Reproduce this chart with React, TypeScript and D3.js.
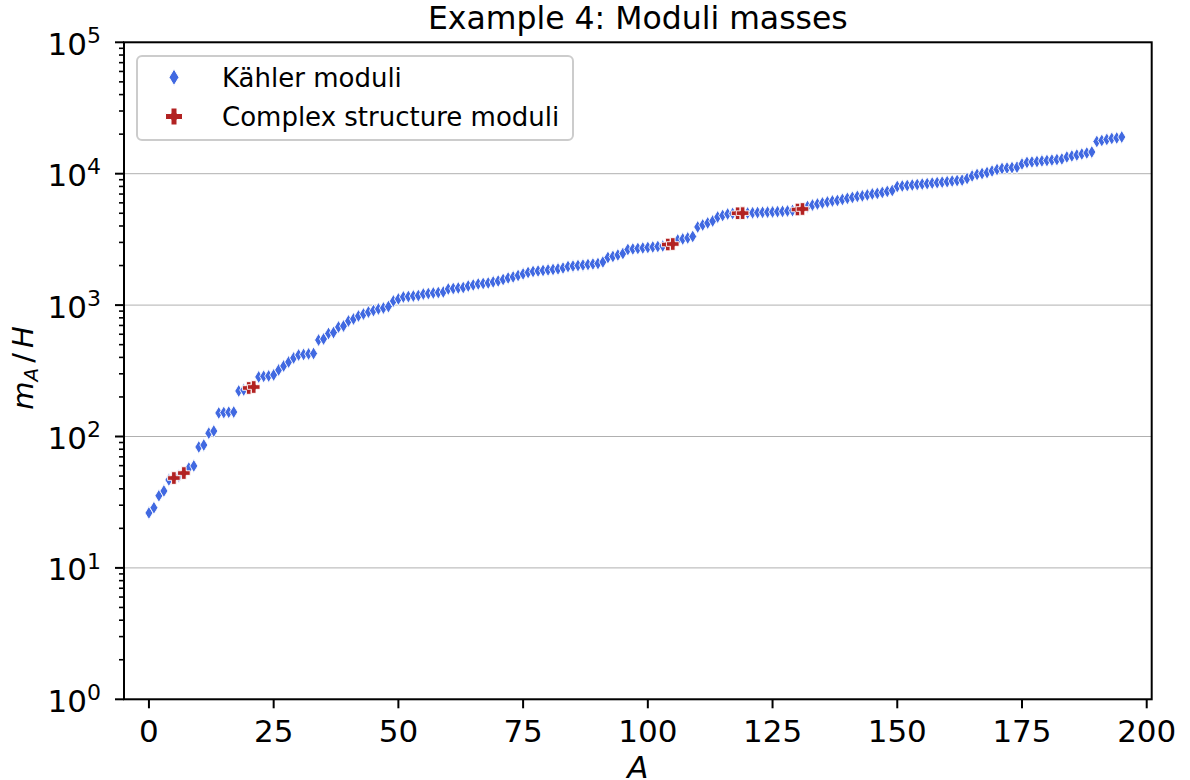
import React from "react";
import * as d3 from "d3";

// Masses m_A / H for each modulus A = 0..195 (sorted)
const masses: number[] = [
  26.2, 28.7, 35.4, 38.5, 46.7, 48.3, 50.0, 52.7, 57.5, 59.7,
  83.2, 86.1, 106, 110, 151, 152, 153, 153.5, 222, 226,
  234, 238, 284, 287, 289, 294, 321, 344, 369, 396,
  417, 421, 425, 428, 542, 552, 608, 618, 681, 693,
  757, 784, 826, 855, 885, 909, 934, 950, 975, 1074,
  1113, 1153, 1162, 1172, 1182, 1214, 1224, 1236, 1246, 1258,
  1326, 1337, 1349, 1361, 1397, 1422, 1448, 1460, 1473, 1500,
  1525, 1566, 1608, 1637, 1680, 1726, 1771, 1802, 1818, 1834,
  1851, 1867, 1884, 1915, 1965, 1983, 2000, 2018, 2036, 2054,
  2072, 2128, 2303, 2345, 2406, 2470, 2650, 2673, 2697, 2720,
  2744, 2768, 2792, 2817, 2891, 2917, 3130, 3186, 3243, 3328,
  3930, 4070, 4216, 4367, 4680, 4808, 4934, 4978, 4998, 5010,
  5022, 5040, 5060, 5080, 5100, 5114, 5140, 5165, 5200, 5245,
  5340, 5387, 5625, 5775, 5880, 5985, 6092, 6200, 6255, 6370,
  6490, 6600, 6720, 6780, 6890, 7015, 7080, 7200, 7330, 7450,
  7990, 8060, 8130, 8200, 8270, 8340, 8400, 8480, 8550, 8620,
  8690, 8790, 8860, 8930, 9190, 9610, 9870, 10030, 10200, 10480,
  10760, 10960, 11050, 11130, 11220, 11860, 12190, 12280, 12370, 12500,
  12590, 12700, 12810, 12940, 13400, 13640, 13870, 14120, 14370, 14620,
  17580, 17900, 18220, 18540, 18700, 19010,
];

// Indices that are complex structure moduli (the rest are Kähler moduli)
const complexIdx: number[] = [5, 7, 20, 21, 104, 105, 118, 119, 130, 131];

const xTicks: number[] = [0, 25, 50, 75, 100, 125, 150, 175, 200];
const yExponents: number[] = [0, 1, 2, 3, 4, 5];
const legendLabels: string[] = ["Kähler moduli", "Complex structure moduli"];
const titleText = "Example 4: Moduli masses";

const BLUE = "#4169E1";
const RED = "#B22222";
const FONT = "DejaVu Sans, sans-serif";

const diamondPath = (w: number, h: number) => `M0,${-h}L${w},0L0,${h}L${-w},0Z`;
const plusPath = (L: number, t: number) =>
  `M${-t},${-L}H${t}V${-t}H${L}V${t}H${t}V${L}H${-t}V${t}H${-L}V${-t}H${-t}Z`;

export default function App() {
  const left = 124, right = 1151.7, top = 42.3, bottom = 699.3;
  const x = d3.scaleLinear().domain([-5, 201]).range([left, right]);
  const y = d3.scaleLog().domain([1, 1e5]).range([bottom, top]);

  const complexSet = new Set(complexIdx);
  const points = masses.map((v, i) => ({ i, v, complex: complexSet.has(i) }));
  const kahler = points.filter((p) => !p.complex);
  const complexPts = points.filter((p) => p.complex);

  const minorTicks: number[] = [];
  for (let e = 0; e < 5; e++) {
    for (let k = 2; k <= 9; k++) minorTicks.push(k * Math.pow(10, e));
  }

  return (
    <svg
      width={1190}
      height={780}
      style={{ position: "absolute", left: 0, top: 0, background: "#fff" }}
      fontFamily={FONT}
    >
      <rect x={0} y={0} width={1190} height={780} fill="#fff" />
      {/* grid */}
      {yExponents.map((e) => (
        <line
          key={"g" + e}
          x1={left}
          x2={right}
          y1={y(Math.pow(10, e))}
          y2={y(Math.pow(10, e))}
          stroke="#b0b0b0"
          strokeWidth={1}
        />
      ))}
      {/* points */}
      {kahler.map((p) => (
        <path
          key={"k" + p.i}
          d={diamondPath(4, 6.6)}
          transform={`translate(${x(p.i)},${y(p.v)})`}
          fill={BLUE}
          stroke="#fff"
          strokeWidth={0.9}
        />
      ))}
      {complexPts.map((p) => (
        <path
          key={"c" + p.i}
          d={plusPath(6.3, 2.3)}
          transform={`translate(${x(p.i)},${y(p.v)})`}
          fill={RED}
          stroke="#fff"
          strokeWidth={0.9}
        />
      ))}
      {/* spines */}
      <rect
        x={left}
        y={top}
        width={right - left}
        height={bottom - top}
        fill="none"
        stroke="#000"
        strokeWidth={2}
      />
      {/* x ticks */}
      {xTicks.map((t) => (
        <g key={"x" + t}>
          <line x1={x(t)} x2={x(t)} y1={bottom} y2={bottom + 9} stroke="#000" strokeWidth={2} />
          <text x={x(t)} y={741.7} fontSize={31} textAnchor="middle" fill="#000">
            {t}
          </text>
        </g>
      ))}
      {/* y ticks */}
      {minorTicks.map((t) => (
        <line key={"m" + t} x1={left - 5} x2={left} y1={y(t)} y2={y(t)} stroke="#000" strokeWidth={1.6} />
      ))}
      {yExponents.map((e) => (
        <g key={"y" + e}>
          <line
            x1={left - 9}
            x2={left}
            y1={y(Math.pow(10, e))}
            y2={y(Math.pow(10, e))}
            stroke="#000"
            strokeWidth={2}
          />
          <text x={101} y={y(Math.pow(10, e)) + 12.4} fontSize={31} textAnchor="end" fill="#000">
            10
            <tspan fontSize={22} dy={-11.7}>
              {e}
            </tspan>
          </text>
        </g>
      ))}
      {/* title */}
      <text x={(left + right) / 2} y={29} fontSize={31.5} textAnchor="middle" fill="#000">
        {titleText}
      </text>
      {/* x label */}
      <text x={(left + right) / 2} y={778} fontSize={31} fontStyle="italic" textAnchor="middle" fill="#000">
        A
      </text>
      {/* y label */}
      <text transform={`translate(33,368) rotate(-90)`} fontSize={29} textAnchor="middle" fill="#000">
        <tspan fontStyle="italic">m</tspan>
        <tspan fontStyle="italic" fontSize={20} dy={5}>
          A
        </tspan>
        <tspan dy={-5} dx={5}>/</tspan>
        <tspan fontStyle="italic" dx={5}>H</tspan>
      </text>
      {/* legend */}
      <rect
        x={137}
        y={56}
        width={436}
        height={84}
        rx={5}
        fill="#fff"
        fillOpacity={0.8}
        stroke="#cccccc"
        strokeWidth={2}
      />
      <path d={diamondPath(5, 8.3)} transform="translate(174,77.3)" fill={BLUE} stroke="#fff" strokeWidth={1} />
      <text x={222} y={86.7} fontSize={26} fill="#000">
        {legendLabels[0]}
      </text>
      <path d={plusPath(8.5, 3)} transform="translate(174,116.5)" fill={RED} stroke="#fff" strokeWidth={1} />
      <text x={222} y={126} fontSize={26} fill="#000">
        {legendLabels[1]}
      </text>
    </svg>
  );
}
